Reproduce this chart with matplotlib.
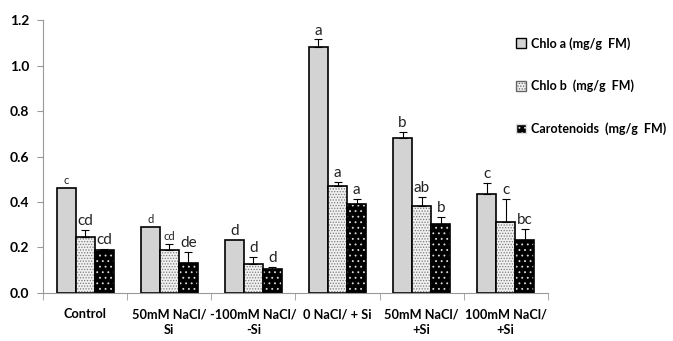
import matplotlib.pyplot as plt
import numpy as np
from matplotlib.patches import Patch

# data
groups = ["Control", "50mM NaCl/\nSi", "-100mM NaCl/\n-Si", "0 NaCl/ + Si",
          "50mM NaCl/\n+Si", "100mM NaCl/\n+Si"]
chlo_a = [0.463, 0.290, 0.233, 1.083, 0.683, 0.437]
chlo_a_err = [0.0, 0.0, 0.0, 0.032, 0.026, 0.048]
chlo_b = [0.246, 0.189, 0.126, 0.472, 0.384, 0.312]
chlo_b_err = [0.031, 0.025, 0.031, 0.017, 0.039, 0.100]
carot = [0.190, 0.130, 0.104, 0.390, 0.302, 0.234]
carot_err = [0.003, 0.052, 0.009, 0.022, 0.031, 0.049]
letters_a = ["c", "d", "d", "a", "b", "c"]
letters_b = ["cd", "cd", "d", "a", "ab", "c"]
letters_c = ["cd", "de", "d", "a", "b", "bc"]
labels = ["Chlo a (mg/g  FM)", "Chlo b  (mg/g  FM)", "Carotenoids  (mg/g  FM)"]

plt.rcParams['font.family'] = ['Lato', 'DejaVu Sans']
plt.rcParams['hatch.linewidth'] = 0.6

fig = plt.figure(figsize=(6.73, 3.41), dpi=100)
ax = fig.add_axes([0.064, 0.141, 0.750, 0.800])

x = np.arange(len(groups))
w = 0.226

# Chlo a
ax.bar(x - w, chlo_a, w, color='#d3d3d3', edgecolor='black', linewidth=1.2)
# Chlo b: dotted light fill
ax.bar(x, chlo_b, w, color='#f0f0f0', edgecolor='#7a7a7a', hatch='......', linewidth=0)
ax.bar(x, chlo_b, w, fill=False, edgecolor='black', linewidth=1.2)
# Carotenoids: black with white dots
ax.bar(x + w, carot, w, color='black', edgecolor='#dddddd', hatch='...', linewidth=0)
ax.bar(x + w, carot, w, fill=False, edgecolor='black', linewidth=1.2)

# upward-only error bars
for off, vals, errs in [(-w, chlo_a, chlo_a_err), (0, chlo_b, chlo_b_err), (w, carot, carot_err)]:
    m = np.array(errs) > 0
    ax.errorbar((x + off)[m], np.array(vals)[m], yerr=[np.zeros(m.sum()), np.array(errs)[m]],
                fmt='none', ecolor='black', elinewidth=0.8, capsize=3, capthick=0.8)

# significance letters
sizes_a = [8, 8, 11, 11, 11, 11]
sizes_b = [11, 8, 11, 11, 11, 11]
sizes_c = [11, 11, 11, 11, 11, 11]
for off, vals, errs, lets, sz in [(-w, chlo_a, chlo_a_err, letters_a, sizes_a),
                                  (0, chlo_b, chlo_b_err, letters_b, sizes_b),
                                  (w, carot, carot_err, letters_c, sizes_c)]:
    for i in range(len(groups)):
        ax.text(x[i] + off, vals[i] + errs[i] + 0.008, lets[i], ha='center', va='bottom',
                fontsize=sz[i], color='#222222')

ax.set_ylim(0, 1.2)
ax.set_xlim(-0.5, len(groups) - 0.5)
ax.set_yticks(np.arange(0, 1.21, 0.2))
ax.set_yticklabels([f"{v:.1f}" for v in np.arange(0, 1.21, 0.2)], fontweight='bold', fontsize=10)
ax.set_xticks(x)
ax.set_xticklabels(groups, fontweight='bold', fontsize=9.2, linespacing=1.4)
ax.set_xticks(np.arange(-0.5, len(groups)), minor=True)
ax.tick_params(axis='x', which='major', length=0, pad=11)
ax.tick_params(axis='x', which='minor', length=5, color='#999999')
ax.tick_params(axis='y', length=4, color='#999999', pad=6)
for s in ['top', 'right']:
    ax.spines[s].set_visible(False)
for s in ['left', 'bottom']:
    ax.spines[s].set_color('#999999')

handles = [Patch(facecolor='#d3d3d3', edgecolor='black'),
           Patch(facecolor='#f0f0f0', edgecolor='#666666', hatch='......'),
           Patch(facecolor='black', edgecolor='#dddddd', hatch='...')]
fig.legend(handles, labels, loc='upper left', bbox_to_anchor=(0.75, 0.925), frameon=False,
           prop={'size': 9, 'weight': 'bold'}, handlelength=0.8, handleheight=0.8,
           handletextpad=0.4, labelspacing=2.4)

fig.savefig("out.png", dpi=100)
